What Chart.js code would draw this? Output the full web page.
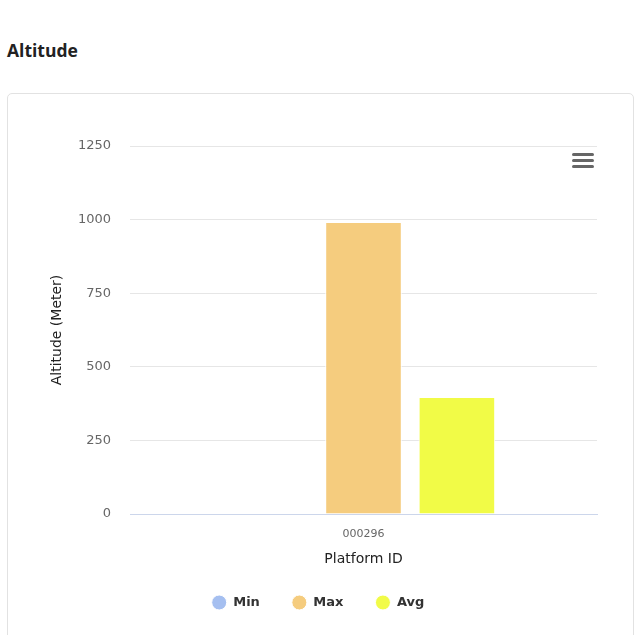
<!DOCTYPE html>
<html>
<head>
<meta charset="utf-8">
<script src="https://cdn.jsdelivr.net/npm/chart.js@4/dist/chart.umd.min.js"></script>
<style>
  html, body { margin: 0; padding: 0; background: #fff; width: 637px; height: 635px; overflow: hidden; }
  .heading { position: absolute; left: 7px; top: 38px; font: 700 17.5px "Open Sans", sans-serif; color: #222; }
  .card { position: absolute; left: 7px; top: 93px; width: 625px; height: 600px; border: 1px solid #e2e2e2; border-radius: 5px; background: #fff; }
  .plot { position: absolute; left: 8px; top: 95px; width: 626px; height: 540px; }
</style>
</head>
<body>
<div class="heading">Altitude</div>
<div class="card"></div>
<div class="plot"><canvas id="altitudeChart" width="626" height="540"></canvas></div>
<script>
// Altitude statistics per platform
const categories = ['000296'];
const minValues = [0];
const maxValues = [992];
const avgValues = [397];
const yTicks = [0, 250, 500, 750, 1000, 1250];

const FONT = '"DejaVu Sans", Verdana, sans-serif';

// Three-bar "hamburger" export menu icon in the top-right corner
const menuIcon = {
  id: 'menuIcon',
  afterDraw(chart) {
    const ctx = chart.ctx;
    ctx.save();
    ctx.strokeStyle = '#666';
    ctx.lineWidth = 3;
    ctx.lineCap = 'round';
    [59.5, 65.5, 71.5].forEach(y => {
      ctx.beginPath();
      ctx.moveTo(565.5, y);
      ctx.lineTo(584.5, y);
      ctx.stroke();
    });
    ctx.restore();
  }
};

new Chart(document.getElementById('altitudeChart'), {
  type: 'bar',
  data: {
    labels: categories,
    datasets: [
      { label: 'Min', data: minValues, backgroundColor: '#a5bff0' },
      { label: 'Max', data: maxValues, backgroundColor: '#f5cc7e' },
      { label: 'Avg', data: avgValues, backgroundColor: '#f1fb47' }
    ]
  },
  options: {
    responsive: false,
    animation: false,
    layout: { padding: { left: 31, right: 37, top: 51, bottom: 16 } },
    datasets: {
      bar: {
        categoryPercentage: 0.6,
        barPercentage: 0.82,
        borderWidth: 1,
        borderColor: '#ffffff',
        borderSkipped: 'start'
      }
    },
    scales: {
      x: {
        grid: { display: false, drawTicks: false },
        border: { display: true, color: '#ccd6eb', width: 1 },
        ticks: { color: '#666', font: { family: FONT, size: 11 }, padding: 14 },
        title: {
          display: true,
          text: 'Platform ID',
          color: '#222',
          font: { family: FONT, size: 14, lineHeight: 1 },
          padding: { top: 0, bottom: -2 }
        },
        afterFit(axis) { axis.height = 50; }
      },
      y: {
        min: 0,
        max: 1250,
        afterBuildTicks(axis) { axis.ticks = yTicks.map(v => ({ value: v })); },
        grid: { color: '#e6e6e6', drawTicks: false },
        border: { display: false },
        ticks: {
          color: '#666',
          font: { family: FONT, size: 13 },
          padding: 19,
          callback: v => String(v)
        },
        title: {
          display: true,
          text: 'Altitude (Meter)',
          color: '#222',
          font: { family: FONT, size: 14 },
          padding: { top: 10, bottom: 0 }
        },
        afterFit(axis) { axis.width = 91; }
      }
    },
    plugins: {
      legend: {
        position: 'bottom',
        labels: {
          usePointStyle: true,
          pointStyle: 'circle',
          pointStyleWidth: 15,
          boxWidth: 10.6,
          boxHeight: 10.6,
          padding: 32,
          color: '#333',
          font: { family: FONT, size: 13, weight: 'bold' }
        }
      },
      tooltip: { enabled: false }
    }
  },
  plugins: [menuIcon]
});
</script>
</body>
</html>
